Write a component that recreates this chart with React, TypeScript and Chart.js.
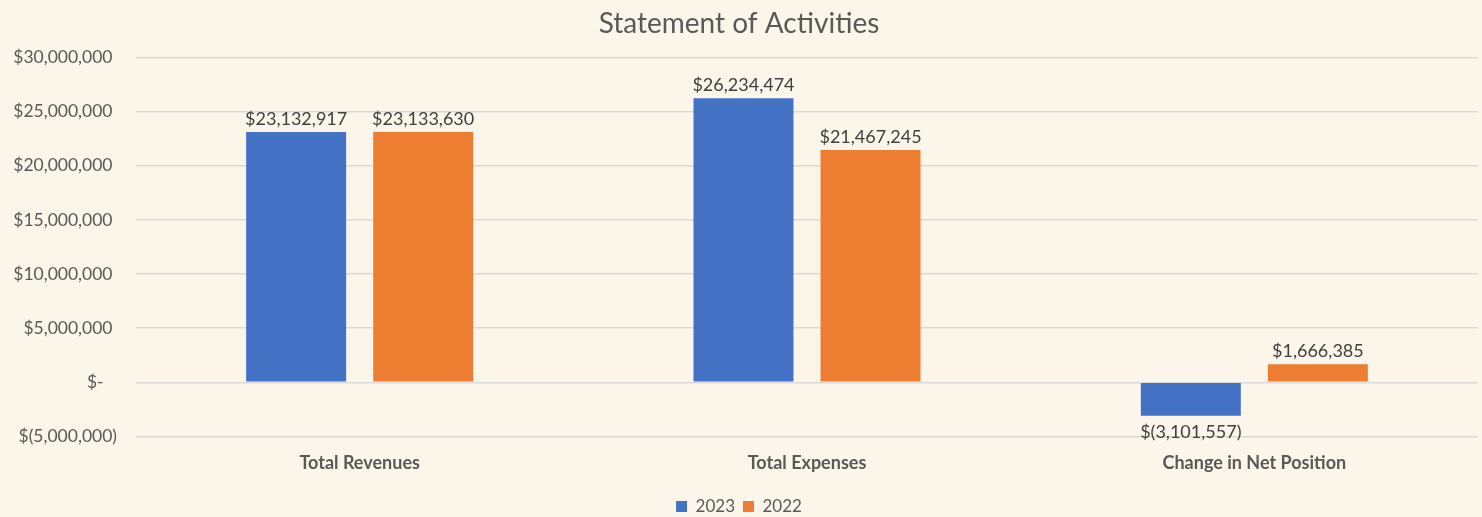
import React, { useEffect, useRef } from "react";
import { Chart, registerables } from "chart.js";

Chart.register(...registerables);

const categories = ["Total Revenues", "Total Expenses", "Change in Net Position"];
const series2023 = [23132917, 26234474, -3101557];
const series2022 = [23133630, 21467245, 1666385];
const seriesNames = ["2023", "2022"];
const yMin = -5000000;
const yMax = 30000000;
const yStep = 5000000;

const FONT = "Lato, 'Noto Sans', sans-serif";
const BG = "#FCF5EA";

function fmtNum(v: number): string {
  return Math.abs(Math.round(v)).toLocaleString("en-US");
}
function fmtLabel(v: number): string {
  if (v < 0) return "$(" + fmtNum(v) + ")";
  return "$" + fmtNum(v);
}
function fmtTick(v: number): string {
  if (v === 0) return "$-   ";
  if (v < 0) return "$(" + fmtNum(v) + ")";
  return "$" + fmtNum(v) + " ";
}

const dataLabelPlugin = {
  id: "dataLabels",
  afterDatasetsDraw(chart: any) {
    const ctx = chart.ctx;
    ctx.save();
    ctx.font = "18px " + FONT;
    ctx.fillStyle = "#404040";
    ctx.textAlign = "center";
    chart.data.datasets.forEach((ds: any, i: number) => {
      const meta = chart.getDatasetMeta(i);
      meta.data.forEach((bar: any, j: number) => {
        const v = ds.data[j];
        if (v >= 0) {
          ctx.textBaseline = "bottom";
          ctx.fillText(fmtLabel(v), bar.x, bar.y - 4);
        } else {
          ctx.textBaseline = "top";
          ctx.fillText(fmtLabel(v), bar.x, bar.y + 7);
        }
      });
    });
    ctx.restore();
  },
};

const bgPlugin = {
  id: "bg",
  beforeDraw(chart: any) {
    const ctx = chart.ctx;
    ctx.save();
    ctx.fillStyle = BG;
    ctx.fillRect(0, 0, chart.width, chart.height);
    ctx.restore();
  },
};

export default function App() {
  const ref = useRef<HTMLCanvasElement>(null);
  useEffect(() => {
    document.body.style.margin = "0";
    document.body.style.background = BG;
    const chart = new Chart(ref.current!, {
      type: "bar",
      data: {
        labels: categories,
        datasets: [
          { label: seriesNames[0], data: series2023, backgroundColor: "#4472C4" },
          { label: seriesNames[1], data: series2022, backgroundColor: "#ED7D31" },
        ],
      },
      plugins: [bgPlugin, dataLabelPlugin],
      options: {
        animation: false,
        responsive: false,
        maintainAspectRatio: false,
        layout: { padding: { left: 0, right: 4, top: 0, bottom: -8 } },
        datasets: { bar: { categoryPercentage: 0.568, barPercentage: 0.787 } },
        plugins: {
          title: {
            display: true,
            text: "Statement of Activities",
            color: "#595959",
            font: { family: FONT, size: 28, weight: "normal" },
            padding: { top: 7, bottom: 17 },
          },
          legend: {
            display: true,
            position: "bottom",
            labels: {
              color: "#595959",
              font: { family: FONT, size: 17 },
              boxWidth: 11,
              boxHeight: 11,
              padding: 8,
            },
          },
          tooltip: { enabled: false },
        },
        scales: {
          x: {
            grid: { display: false, drawTicks: false },
            border: { display: false },
            ticks: {
              color: "#595959",
              font: { family: FONT, size: 18, weight: "bold" },
              padding: 16,
            },
          },
          y: {
            min: yMin,
            max: yMax,
            grid: { color: "#D9D9D9", lineWidth: 1.5, drawTicks: false },
            border: { display: false },
            ticks: {
              stepSize: yStep,
              color: "#595959",
              font: { family: FONT, size: 17.5 },
              padding: 19,
              callback: (v: any) => fmtTick(Number(v)),
            },
            afterFit: (scale: any) => {
              scale.width = 136;
            },
          },
        },
      },
    });
    return () => chart.destroy();
  }, []);
  return (
    <div style={{ width: 1482, height: 517, background: BG }}>
      <canvas ref={ref} width={1482} height={517} style={{ display: "block" }} />
    </div>
  );
}
